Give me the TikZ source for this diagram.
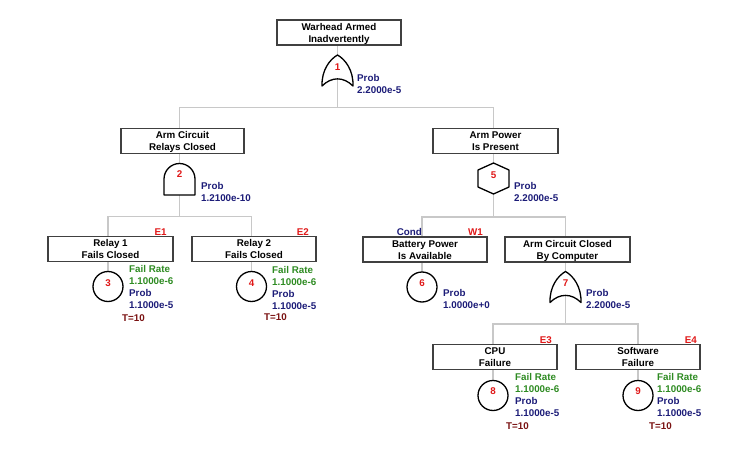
\documentclass[tikz,border=0pt]{standalone}
\usepackage{fontspec}
\setmainfont{Liberation Sans}
\usetikzlibrary{backgrounds,calc}
\definecolor{numred}{HTML}{E01818}
\definecolor{navy}{HTML}{1C1C78}
\definecolor{rategreen}{HTML}{2E8B22}
\definecolor{maroon}{HTML}{7A1212}
\definecolor{conngray}{HTML}{C8C8C8}
\definecolor{boxgray}{HTML}{404040}
\newcommand\bx[2]{\rule{0pt}{9.5pt}#1\\#2\vphantom{y}}
\newcommand\ORgate[1]{\draw[gateline,shift={(#1)}] (-15.5,15.5) .. controls (-16,0) and (-8,-11) .. (0,-15.5) .. controls (8,-11) and (16,0) .. (15.5,15.5) .. controls (6,6) and (-6,6) .. cycle;}
\newcommand\ANDgate[1]{\draw[gateline,shift={(#1)}] (-15.5,16) -- (-15.5,0) .. controls (-15.5,-8.5) and (-8.5,-15.5) .. (0,-15.5) .. controls (8.5,-15.5) and (15.5,-8.5) .. (15.5,0) -- (15.5,16) -- cycle;}
\newcommand\HEXgate[1]{\draw[gateline,shift={(#1)}] (0,-15.5) -- (15.5,-8.5) -- (15.5,8.5) -- (0,15.5) -- (-15.5,8.5) -- (-15.5,-8.5) -- cycle;}
\begin{document}
\begin{tikzpicture}[x=1pt,y=-1pt,
  every node/.style={font=\bfseries\fontsize{9.8}{12}\selectfont, inner sep=0pt},
  evbox/.style={draw=boxgray, line width=1.3pt, fill=white, minimum height=25pt, align=center},
  gatebox/.style={minimum size=31pt},
  circ/.style={circle, draw=black, line width=1.3pt, fill=white, minimum size=30pt},
  gateline/.style={draw=black, line width=1.3pt, fill=white, line join=round},
  conn/.style={draw=conngray, line width=1.8pt},
  num/.style={text=numred},
  info/.style={align=left, anchor=north west},
  tag/.style={text=numred, anchor=base east},
  tlab/.style={text=maroon, anchor=north west}
]
\useasboundingbox (0,0) rectangle (754,465);

% event boxes
\node[evbox, minimum width=124pt] (b1) at (339,32.5) {\bx{Warhead Armed}{Inadvertently}};
\node[evbox, minimum width=123pt] (b2) at (182.5,141) {\bx{Arm Circuit}{Relays Closed}};
\node[evbox, minimum width=125pt] (b5) at (495.5,141) {\bx{Arm Power}{Is Present}};
\node[evbox, minimum width=125pt] (b3) at (110.5,249) {\bx{Relay 1}{Fails Closed}};
\node[evbox, minimum width=124pt] (b4) at (254,249) {\bx{Relay 2}{Fails Closed}};
\node[evbox, minimum width=124pt] (b6) at (425,249.5) {\bx{Battery Power}{Is Available}};
\node[evbox, minimum width=125pt] (b7) at (567.5,249.5) {\bx{Arm Circuit Closed}{By Computer}};
\node[evbox, minimum width=124pt] (b8) at (495,357) {\bx{CPU}{Failure}};
\node[evbox, minimum width=124pt] (b9) at (638,357) {\bx{Software}{Failure}};

% gates and basic events
\node[gatebox] (g1) at (337.5,70.5) {};
\node[gatebox] (g2) at (179.5,179) {};
\node[gatebox] (g5) at (493.5,178.5) {};
\node[gatebox] (g7) at (565.5,287) {};
\ORgate{g1}
\ANDgate{g2}
\HEXgate{g5}
\ORgate{g7}
\node[circ] (c3) at (108,286.5) {};
\node[circ] (c4) at (251.5,286.5) {};
\node[circ] (c6) at (422,287) {};
\node[circ] (c8) at (493,395.5) {};
\node[circ] (c9) at (638,395.5) {};

% numbers
\node[num] (n1) at ([yshift=3.5pt]g1.center) {1};
\node[num] (n2) at ([yshift=5pt]g2.center) {2};
\node[num] (n5) at ([yshift=3.5pt]g5.center) {5};
\node[num] (n7) at ([yshift=4pt]g7.center) {7};
\node[num] (n3) at ([yshift=3.5pt]c3.center) {3};
\node[num] (n4) at ([yshift=3.5pt]c4.center) {4};
\node[num] (n6) at ([yshift=4pt]c6.center) {6};
\node[num] (n8) at ([yshift=4pt]c8.center) {8};
\node[num] (n9) at ([yshift=4pt]c9.center) {9};

% probability labels
\node[info, text=navy] (p1) at (357,74.5) {Prob\\2.2000e-5};
\node[info, text=navy] (p2) at (201,182.2) {Prob\\1.2100e-10};
\node[info, text=navy] (p5) at (514,182.5) {Prob\\2.2000e-5};
\node[info, text=navy] (p6) at (443,289.5) {Prob\\1.0000e+0};
\node[info, text=navy] (p7) at (586,289.2) {Prob\\2.2000e-5};
\node[info] (p3) at (129,265.5) {\textcolor{rategreen}{Fail Rate}\\\textcolor{rategreen}{1.1000e-6}\\\textcolor{navy}{Prob}\\\textcolor{navy}{1.1000e-5}};
\node[info] (p4) at (272,266) {\textcolor{rategreen}{Fail Rate}\\\textcolor{rategreen}{1.1000e-6}\\\textcolor{navy}{Prob}\\\textcolor{navy}{1.1000e-5}};
\node[info] (p8) at (515,373.5) {\textcolor{rategreen}{Fail Rate}\\\textcolor{rategreen}{1.1000e-6}\\\textcolor{navy}{Prob}\\\textcolor{navy}{1.1000e-5}};
\node[info] (p9) at (657,373.5) {\textcolor{rategreen}{Fail Rate}\\\textcolor{rategreen}{1.1000e-6}\\\textcolor{navy}{Prob}\\\textcolor{navy}{1.1000e-5}};
\node[tlab] (t3) at (122,314.2) {T=10};
\node[tlab] (t4) at (264,313.8) {T=10};
\node[tlab] (t8) at (506,422.5) {T=10};
\node[tlab] (t9) at (649,422.5) {T=10};

% tags
\node[tag] (e1) at (166.7,235.5) {E1};
\node[tag] (e2) at (309,235.5) {E2};
\node[tag] (w1) at (483,235.5) {W1};
\node[tag, text=navy] (cd) at (422,235.5) {Cond};
\node[tag] (e3) at (552,343.5) {E3};
\node[tag] (e4) at (697,343.5) {E4};

% connectors
\coordinate (jA) at (337.5,107.5);
\coordinate (jB) at (179.5,216.5);
\coordinate (jC) at (493.5,217);
\coordinate (jD) at (565.5,324);
\begin{pgfonlayer}{background}
\draw[conn] (b1.south -| g1) -- (g1.center);
\draw[conn] (g1.center) -- (jA);
\draw[conn] (g2.center) |- (jA) -| (g5.center);
\draw[conn] (g2.center) -- (jB);
\draw[conn] (c3.center) |- (jB) -| (c4.center);
\draw[conn] (g5.center) -- (jC);
\draw[conn] (c6.center) |- (jC) -| (g7.center);
\draw[conn] (g7.center) -- (jD);
\draw[conn] (c8.center) |- (jD) -| (c9.center);
\end{pgfonlayer}
\end{tikzpicture}
\end{document}
